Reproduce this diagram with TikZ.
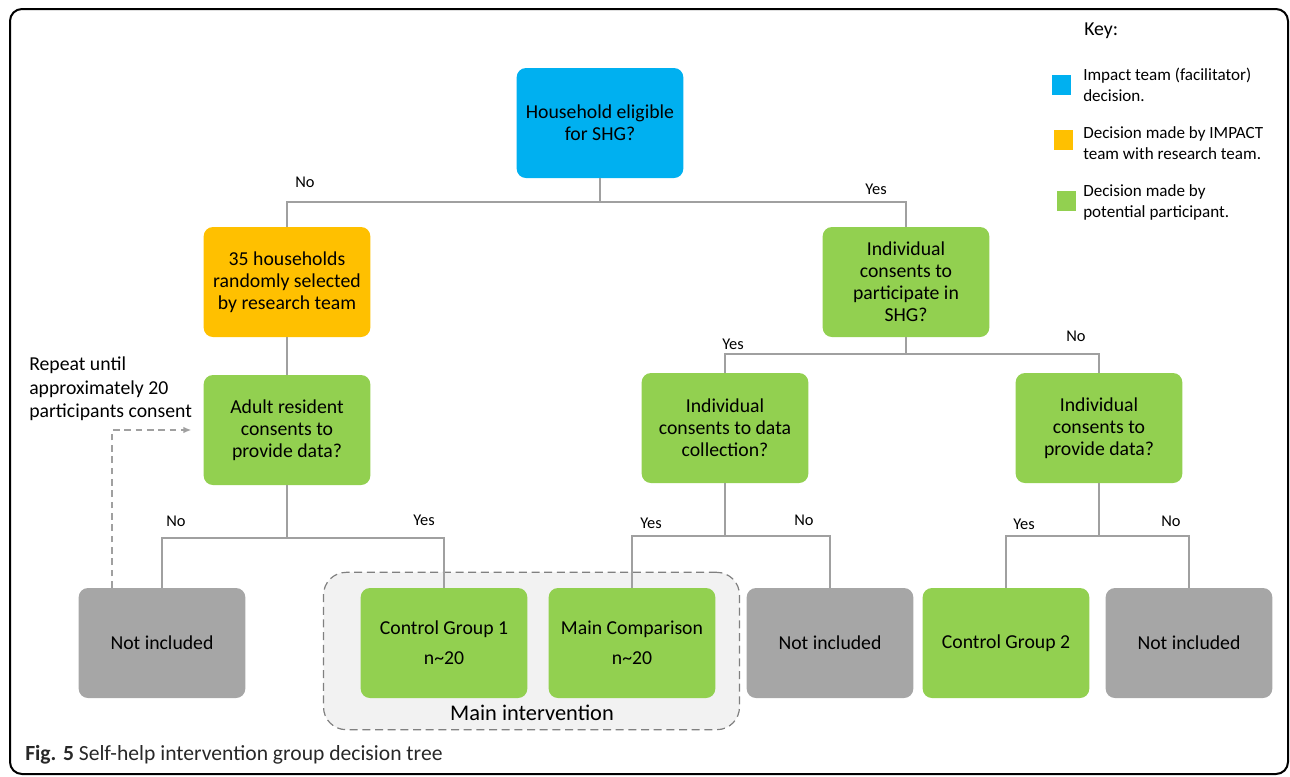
\documentclass[tikz,border=0pt]{standalone}
\usepackage{fontspec}
\setmainfont{Carlito}
\usetikzlibrary{arrows.meta,positioning,calc}
\definecolor{C_impact}{RGB}{0,176,240}
\definecolor{C_joint}{RGB}{255,192,0}
\definecolor{C_part}{RGB}{146,208,80}
\definecolor{C_out}{RGB}{166,166,166}
\definecolor{C_link}{RGB}{160,160,160}
\definecolor{C_group}{RGB}{242,242,242}
\definecolor{C_cap}{RGB}{40,40,40}

\begin{document}
\begin{tikzpicture}[x=0.75pt, y=-0.75pt, every node/.style={font=\fontsize{14.8}{16.5}\selectfont}]
  \tikzset{
    decbox/.style={rectangle, rounded corners=7pt, minimum width=125pt, minimum height=82.5pt, align=center, inner sep=2pt},
    impact/.style={decbox, fill=C_impact},
    joint/.style={decbox, fill=C_joint},
    part/.style={decbox, fill=C_part},
    excl/.style={decbox, fill=C_out},
    link/.style={C_link, line width=1.3pt},
    loopback/.style={C_link, line width=1.3pt, dashed, dash pattern=on 5pt off 3.5pt, -{Latex[length=6pt, width=5pt]}},
    grpbox/.style={rectangle, rounded corners=17pt, draw=C_link!80!black, dashed, dash pattern=on 6pt off 3.5pt, fill=C_group, line width=0.9pt, minimum width=312pt, minimum height=118pt},
    ans/.style={font=\fontsize{12.3}{14}\selectfont},
    keytxt/.style={anchor=north west, align=left, inner sep=0pt, font=\fontsize{12.8}{15.75}\selectfont},
    keysq/.style={rectangle, minimum size=14.5pt, inner sep=0pt}
  }

  \useasboundingbox (0,0) rectangle (1290,776);
  \draw[line width=1.5pt, rounded corners=9pt] (10,9) rectangle (1288,774);

  % grouped outcome area
  \node[grpbox] (grp) at (531.5,651) {};
  \node[font=\fontsize{16.8}{18}\selectfont] (grplab) at (532,713) {Main intervention};

  % decisions
  \node[impact] (hh) at (600,123) {Household eligible\\for SHG?};
  \node[joint] (sel) at (287,282) {35 households\\randomly selected\\by research team};
  \node[part] (shg) at (906,282) {Individual\\consents to\\participate in\\SHG?};
  \node[part] (adult) at (287,430) {Adult resident\\consents to\\provide data?};
  \node[part] (coll) at (725,428) {Individual\\consents to data\\collection?};
  \node[part] (prov) at (1099,428) {Individual\\consents to\\provide data?};

  % outcomes
  \node[excl] (ni1) at (162,643) {Not included};
  \node[part] (cg1) at (444,643) {Control Group 1\\[6pt]n\textasciitilde20};
  \node[part] (mc) at (632,643) {Main Comparison\\[6pt]n\textasciitilde20};
  \node[excl] (ni2) at (830,643) {Not included};
  \node[part] (cg2) at (1006,643) {Control Group 2};
  \node[excl] (ni3) at (1189,643) {Not included};

  % tree connectors
  \draw[link] (hh.south) -- ++(0,24) coordinate (j1);
  \draw[link] (j1) -| (sel.north);
  \draw[link] (j1) -| (shg.north);
  \draw[link] (sel) -- (adult);
  \draw[link] (adult.south) -- ++(0,53) coordinate (j2);
  \draw[link] (j2) -| (ni1.north);
  \draw[link] (j2) -| (cg1.north);
  \draw[link] (shg.south) -- ++(0,17) coordinate (j3);
  \draw[link] (j3) -| (coll.north);
  \draw[link] (j3) -| (prov.north);
  \draw[link] (coll.south) -- ++(0,53) coordinate (j4);
  \draw[link] (j4) -| (mc.north);
  \draw[link] (j4) -| (ni2.north);
  \draw[link] (prov.south) -- ++(0,53) coordinate (j5);
  \draw[link] (j5) -| (cg2.north);
  \draw[link] (j5) -| (ni3.north);

  % answers
  \node[ans] (a1) at (305,182) {No};
  \node[ans] (a2) at (876,189) {Yes};
  \node[ans] (a3) at (733,344) {Yes};
  \node[ans] (a4) at (1076,336) {No};
  \node[ans] (a5) at (176,521) {No};
  \node[ans] (a6) at (424,520) {Yes};
  \node[ans] (a7) at (651,523) {Yes};
  \node[ans] (a8) at (804,520) {No};
  \node[ans] (a9) at (1024,524) {Yes};
  \node[ans] (a10) at (1171,521) {No};

  % repeat loop
  \coordinate (lp) at ([xshift=-37.5pt]ni1.north);
  \draw[loopback] (lp) |- ([xshift=-9pt]adult.west);
  \node[anchor=west, align=left, inner sep=0pt, font=\fontsize{14.8}{17.5}\selectfont] (rep) at (29,389) {Repeat until\\approximately 20\\participants consent};

  % key
  \node[anchor=west, inner sep=0pt] (keyt) at (1084,31) {Key:};
  \node[keysq, fill=C_impact] (k1) at (1061.5,85) {};
  \node[keysq, fill=C_joint] (k2) at (1063.5,140) {};
  \node[keysq, fill=C_part] (k3) at (1066.5,201) {};
  \node[keytxt] (kt1) at (1083,68) {Impact team (facilitator)\\decision.};
  \node[keytxt] (kt2) at (1083,126) {Decision made by IMPACT\\team with research team.};
  \node[keytxt] (kt3) at (1083,184) {Decision made by\\potential participant.};

  % caption
  \node[anchor=west, inner sep=0pt, text=C_cap, font=\fontsize{16.2}{18}\selectfont] (cap) at (25,755) {\textbf{Fig. 5} Self-help intervention group decision tree};
\end{tikzpicture}
\end{document}
